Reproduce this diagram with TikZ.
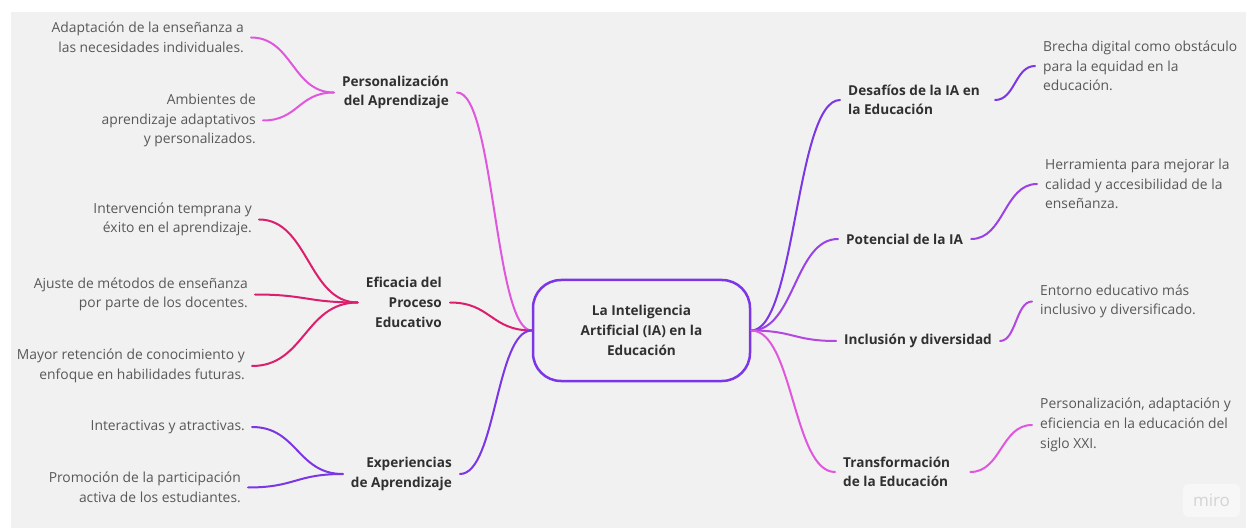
\documentclass[tikz,border=0pt]{standalone}
\usepackage{fontspec}
\setmainfont{Open Sans}
\usetikzlibrary{calc}
\definecolor{bgc}{HTML}{F1F1F1}
\definecolor{pinkc}{HTML}{E057DE}
\definecolor{crimc}{HTML}{DB1F6E}
\definecolor{purpc}{HTML}{7B36E6}
\definecolor{violc}{HTML}{9A42E4}
\definecolor{orchc}{HTML}{B347E0}
\definecolor{txtg}{HTML}{585858}
\definecolor{labg}{HTML}{303030}
\begin{document}
\begin{tikzpicture}[x=1pt,y=-1pt,
  conn/.style={line width=2pt, line cap=round,
    to path={let \p1=(\tikztostart), \p2=(\tikztotarget), \n1={0.5*(\x2-\x1)} in
      .. controls ({\x1+\n1*1pt},{\y1}) and ({\x2-\n1*1pt},{\y2}) .. (\tikztotarget)}},
  ltxt/.style={anchor=east, align=right, inner xsep=7pt, inner ysep=0pt, text=txtg,
    font=\fontsize{13.85}{19.7}\selectfont},
  rtxt/.style={anchor=west, align=left, inner xsep=8pt, inner ysep=0pt, text=txtg,
    font=\fontsize{13.85}{19.7}\selectfont},
  llab/.style={anchor=east, align=right, inner xsep=8pt, inner ysep=0pt, text=labg,
    font=\fontsize{13.6}{19.7}\selectfont\bfseries},
  rlab/.style={anchor=west, align=left, inner xsep=8pt, inner ysep=0pt, text=labg,
    font=\fontsize{13.6}{19.7}\selectfont\bfseries},
  hub/.style={draw=purpc, line width=2.5pt, rounded corners=28pt, fill=bgc,
    minimum width=217pt, minimum height=101pt, align=center, text=labg,
    font=\fontsize{13.6}{19.7}\selectfont\bfseries}
]
\useasboundingbox (0,0) rectangle (1248,529);
\fill[white] (0,0) rectangle (1248,529);
\fill[bgc] (11,12) rectangle (1246,528);

% logo
\node[fill=white!45!bgc, rounded corners=5pt, minimum width=57pt, minimum height=33pt,
  text=black!17, font=\fontsize{17}{20}\selectfont, inner sep=0pt] (logo) at (1211.5,500.5) {miro};

% center
\node[hub] (C) at (641.5,330.5) {La Inteligencia\\Artificial (IA) en la\\Educación};

% left branches
\node[llab] (P) at (457,92.5) {Personalización\\del Aprendizaje};
\node[ltxt] (p1) at (251,37.5) {Adaptación de la enseñanza a\\las necesidades individuales.};
\node[ltxt] (p2) at (263,120.5) {Ambientes de\\aprendizaje adaptativos\\y personalizados.};

\node[llab] (E) at (450,302.5) {Eficacia del\\Proceso\\Educativo};
\node[ltxt] (e1) at (259,219.5) {Intervención temprana y\\éxito en el aprendizaje.};
\node[ltxt] (e2) at (255,294.5) {Ajuste de métodos de enseñanza\\por parte de los docentes.};
\node[ltxt] (e3) at (252,366) {Mayor retención de conocimiento y\\enfoque en habilidades futuras.};

\node[llab] (X) at (460,474) {Experiencias\\de Aprendizaje};
\node[ltxt] (x1) at (252,427) {Interactivas y atractivas.};
\node[ltxt] (x2) at (248,487.5) {Promoción de la participación\\activa de los estudiantes.};

% right branches
\node[rlab] (D) at (840,100) {Desafíos de la IA en\\la Educación};
\node[rtxt] (d1) at (1035,66) {Brecha digital como obstáculo\\para la equidad en la\\educación.};

\node[rlab] (O) at (838,239) {Potencial de la IA};
\node[rtxt] (o1) at (1037,184) {Herramienta para mejorar la\\calidad y accesibilidad de la\\enseñanza.};

\node[rlab] (I) at (836,341) {Inclusión y diversidad};
\node[rtxt] (i1) at (1032,301.5) {Entorno educativo más\\inclusivo y diversificado.};

\node[rlab] (T) at (835,472) {Transformación\\de la Educación};
\node[rtxt] (t1) at (1032,425) {Personalización, adaptación y\\eficiencia en la educación del\\siglo XXI.};

% connectors
\draw[conn, draw=pinkc] (p1.east) to (P.west);
\draw[conn, draw=pinkc] (p2.east) to (P.west);
\draw[conn, draw=pinkc] (P.east) to (C.west);

\draw[conn, draw=crimc] (e1.east) to (E.west);
\draw[conn, draw=crimc] (e2.east) to (E.west);
\draw[conn, draw=crimc] (e3.east) to (E.west);
\draw[conn, draw=crimc] (E.east) to (C.west);

\draw[conn, draw=purpc] (x1.east) to (X.west);
\draw[conn, draw=purpc] (x2.east) to (X.west);
\draw[conn, draw=purpc] (X.east) to (C.west);

\draw[conn, draw=purpc] (C.east) to (D.west);
\draw[conn, draw=purpc] ([xshift=7pt]D.east) to (d1.west);
\draw[conn, draw=violc] (C.east) to (O.west);
\draw[conn, draw=violc] (O.east) to (o1.west);
\draw[conn, draw=orchc] (C.east) to (I.west);
\draw[conn, draw=orchc] (I.east) to (i1.west);
\draw[conn, draw=pinkc] (C.east) to (T.west);
\draw[conn, draw=pinkc] ([xshift=12pt]T.east) to (t1.west);
\end{tikzpicture}
\end{document}
